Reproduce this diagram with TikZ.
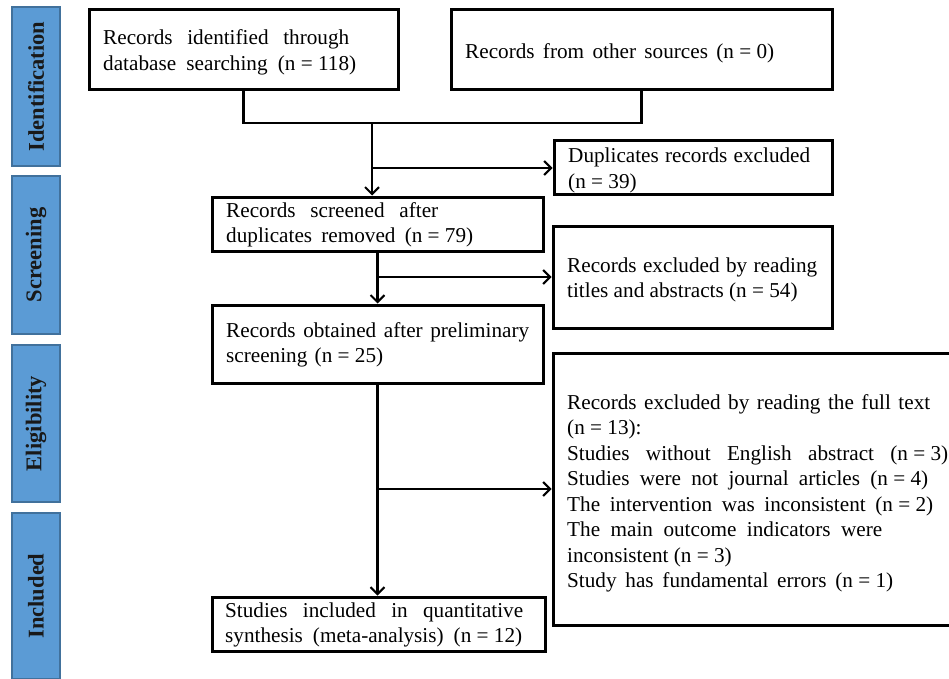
\documentclass[tikz,border=0pt]{standalone}
\usepackage{fontspec}
\setmainfont{Liberation Serif}
\usetikzlibrary{arrows.meta}
\newcommand{\stl}[2]{\makebox[#1pt][s]{#2}}
\newcommand{\nn}[1]{\mbox{(n = #1)}}
\definecolor{barfill}{HTML}{5B9BD5}
\definecolor{barline}{HTML}{41719C}
\begin{document}
\begin{tikzpicture}[x=1pt,y=-1pt,
  box/.style={draw,line width=3pt,inner sep=0pt},
  txt/.style={anchor=base west,inner sep=0pt,font=\fontsize{21.2}{25.5}\selectfont},
  conn/.style={line width=2.2pt},
  arr/.style={line width=2.2pt,-{Straight Barb[length=7pt,width=14pt,line width=2pt]}},
  bar/.style={rotate=90,fill=barfill,draw=barline,line width=1.5pt,inner sep=0pt,
    minimum height=48pt,font=\fontsize{22.5}{26}\selectfont\bfseries,text=black!90}]
\useasboundingbox (0,0) rectangle (949,679);
\fill[white] (0,0) rectangle (949,679);
% side bars
\node[bar,minimum width=159pt] (s1) at (36,86.5) {Identification};
\node[bar,minimum width=158pt] (s2) at (36,255) {Screening};
\node[bar,minimum width=157pt] (s3) at (36,423.5) {Eligibility};
\node[bar,minimum width=166pt] (s4) at (36,596) {Included};
% boxes
\node[box,minimum width=309pt,minimum height=80pt] (A) at (243.5,50) {};
\node[box,minimum width=381pt,minimum height=80pt] (B) at (641.5,50) {};
\node[box,minimum width=278pt,minimum height=53pt] (D) at (693,167.5) {};
\node[box,minimum width=331pt,minimum height=54pt] (S) at (377.5,224) {};
\node[box,minimum width=279pt,minimum height=102pt] (T) at (692.5,277) {};
\node[box,minimum width=331pt,minimum height=78pt] (O) at (377.5,344) {};
\node[box,minimum width=417pt,minimum height=272pt] (F) at (761.5,489) {};
\node[box,minimum width=333pt,minimum height=54pt] (I) at (378.5,624) {};
% texts
\node[txt] (tA) at (103,45) {\parbox[t]{400pt}{\stl{246}{Records identified through}\\
  \stl{253}{database searching \nn{118}}}};
\node[txt] (tB) at (465,59) {\stl{309}{Records from other sources \nn{0}}};
\node[txt] (tD) at (568,163) {\parbox[t]{400pt}{\stl{242}{Duplicates records excluded}\\
  \nn{39}}};
\node[txt] (tS) at (226,217) {\parbox[t]{400pt}{\stl{212}{Records screened after}\\
  \stl{247}{duplicates removed \nn{79}}}};
\node[txt] (tT) at (567,272) {\parbox[t]{400pt}{\stl{250}{Records excluded by reading}\\
  titles and abstracts \nn{54}}};
\node[txt] (tO) at (226,337) {\parbox[t]{400pt}{\stl{303}{Records obtained after preliminary}\\
  \stl{157}{screening \nn{25}}}};
\node[txt] (tF) at (567,409) {\parbox[t]{400pt}{\stl{363}{Records excluded by reading the full text}\\
  \nn{13}:\\
  \stl{381}{Studies without English abstract \nn{3}}\\
  \stl{361}{Studies were not journal articles \nn{4}}\\
  \stl{366}{The intervention was inconsistent \nn{2}}\\
  \stl{315}{The main outcome indicators were}\\
  inconsistent \nn{3}\\
  \stl{326}{Study has fundamental errors \nn{1}}}};
\node[txt] (tI) at (225,617) {\parbox[t]{400pt}{\stl{298}{Studies included in quantitative}\\
  \stl{297}{synthesis (meta-analysis) \nn{12}}}};
% connectors
\coordinate (j1) at (372,123);
\coordinate (j2) at (372,168);
\coordinate (j3) at (377.5,277);
\coordinate (j4) at (377.5,489);
\draw[conn] (A.south) |- (j1) -| (B.south);
\draw[arr] (j1) -- (j1 |- S.north);
\draw[arr] (j2) -- (D.west |- j2);
\draw[arr] (S.south) -- (O.north);
\draw[arr] (j3) -- (T.west |- j3);
\draw[arr] (O.south) -- (O.south |- I.north);
\draw[arr] (j4) -- (F.west |- j4);
\end{tikzpicture}
\end{document}
